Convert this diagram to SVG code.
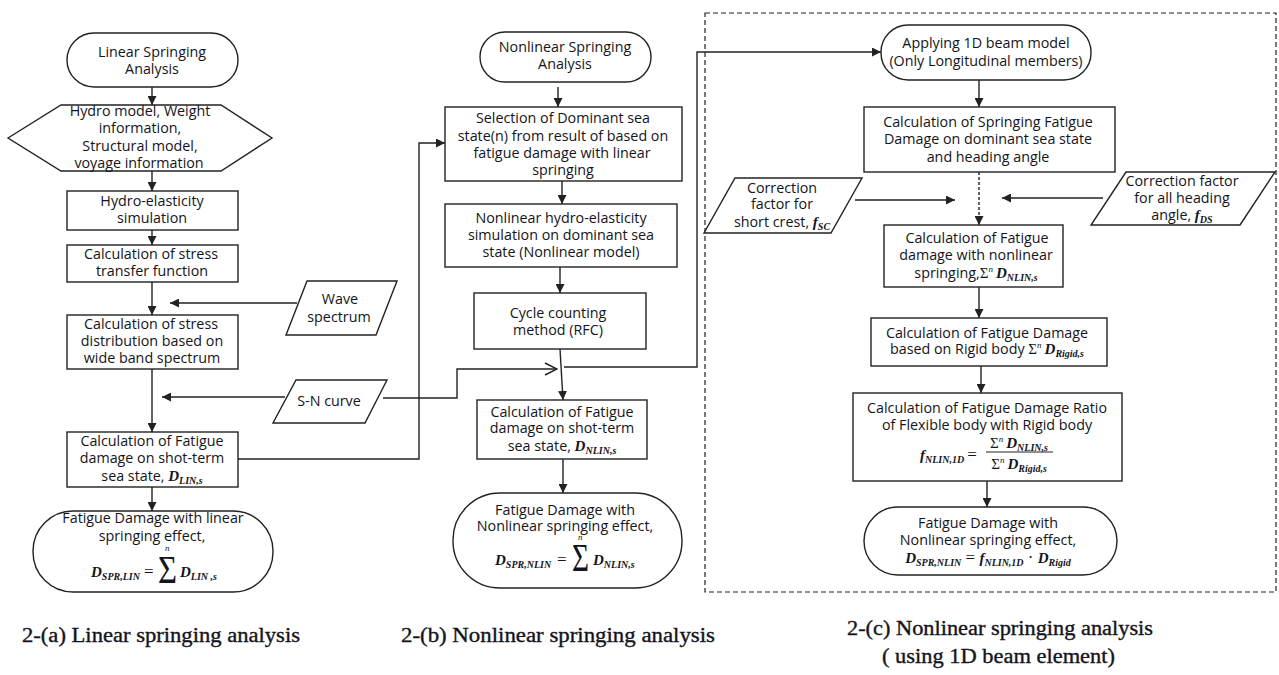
<svg xmlns="http://www.w3.org/2000/svg" width="1279" height="675" viewBox="0 0 1279 675">
  <style>
    .shape { fill: #fff; stroke: #222; stroke-width: 1.4; }
    .t { font-family: "Open Sans", "Noto Sans", sans-serif; font-size: 14.3px; fill: #141420; text-anchor: middle; }
    .mi { font-family: "Liberation Serif", "DejaVu Serif", serif; font-style: italic; font-weight: bold; font-size: 15px; }
    .sub { font-size: 10px; }
    .sup { font-size: 9px; font-family: "Liberation Serif", serif; font-style: italic; }
    .sig { font-family: "Liberation Serif", "DejaVu Serif", serif; font-size: 15px; font-style: normal; font-weight: normal; }
    .bigsig { font-family: "Liberation Serif", "DejaVu Serif", serif; font-size: 40px; fill: #141420; }
    .op { font-family: "Liberation Serif", serif; font-size: 17px; font-style: normal; font-weight: normal; fill: #141420; }
    .cap { font-family: "Liberation Serif", "DejaVu Serif", serif; font-size: 20px; fill: #141420; stroke: #141420; stroke-width: 0.35; }
    .wire { fill: none; stroke: #222; stroke-width: 1.4; }
    .dash { stroke-dasharray: 3 2; }
    .frame { fill: none; stroke: #222; stroke-width: 1.2; stroke-dasharray: 5 3; }
  </style>
  <defs>
    <marker id="arrow" viewBox="0 0 10 10" refX="10" refY="5" markerWidth="9" markerHeight="9" markerUnits="userSpaceOnUse" orient="auto">
      <path d="M0,0 L10,5 L0,10 z" fill="#222"/>
    </marker>
    <marker id="open" viewBox="0 0 14 14" refX="13" refY="7" markerWidth="14" markerHeight="14" markerUnits="userSpaceOnUse" orient="auto">
      <path d="M1,1 L13,7 L1,13" fill="none" stroke="#222" stroke-width="1.4"/>
    </marker>
  </defs>

  <rect fill="#fff" x="0" y="0" width="1279" height="675"/>

  <!-- dashed frame around the 1D beam procedure -->
  <rect class="frame" x="705" y="13" width="571" height="579"/>

  <!-- connectors -->
  <g id="connectors">
    <!-- linear column -->
    <path class="wire" d="M152,87 V105" marker-end="url(#arrow)"/>
    <path class="wire" d="M152,171 V191" marker-end="url(#arrow)"/>
    <path class="wire" d="M152,230 V245" marker-end="url(#arrow)"/>
    <path class="wire" d="M152,282 V315" marker-end="url(#arrow)"/>
    <path class="wire" d="M152,369 V432" marker-end="url(#arrow)"/>
    <path class="wire" d="M152,487 V511" marker-end="url(#arrow)"/>
    <path class="wire" d="M297,303 H170" marker-end="url(#arrow)"/>
    <path class="wire" d="M285,397 H162" marker-end="url(#arrow)"/>
    <path class="wire" d="M238,459 H419 V143 H445" marker-end="url(#arrow)"/>
    <path class="wire" d="M383,398 H457 V369 H557" marker-end="url(#open)"/>
    <!-- nonlinear column -->
    <path class="wire" d="M558,87 V107" marker-end="url(#arrow)"/>
    <path class="wire" d="M562,181 V204" marker-end="url(#arrow)"/>
    <path class="wire" d="M560,267 V293" marker-end="url(#arrow)"/>
    <path class="wire" d="M560,349 L563,400" marker-end="url(#arrow)"/>
    <path class="wire" d="M563,459 V493" marker-end="url(#arrow)"/>
    <path class="wire" d="M564,367 H697 V52 H881" marker-end="url(#arrow)"/>
    <!-- 1D beam column -->
    <path class="wire" d="M979,80 V107" marker-end="url(#arrow)"/>
    <path class="wire dash" d="M979,172 V225" marker-end="url(#arrow)"/>
    <path class="wire" d="M855,200 H955" marker-end="url(#arrow)"/>
    <path class="wire" d="M1103,198 H1002" marker-end="url(#arrow)"/>
    <path class="wire" d="M979,287 V318" marker-end="url(#arrow)"/>
    <path class="wire" d="M981,366 V393" marker-end="url(#arrow)"/>
    <path class="wire" d="M987,481 V507" marker-end="url(#arrow)"/>
  </g>

  <!-- linear springing analysis -->
  <g id="lin-start">
    <rect class="shape" x="67" y="33" width="171" height="54" rx="27"/>
    <text class="t" x="152" y="57">Linear Springing</text>
    <text class="t" x="152" y="74">Analysis</text>
  </g>
  <g id="lin-inputs">
    <polygon class="shape" points="8,138 61,105 221,105 272,138 221,171 61,171"/>
    <text class="t" x="140" y="116">Hydro model, Weight</text>
    <text class="t" x="140" y="133">information,</text>
    <text class="t" x="140" y="151">Structural model,</text>
    <text class="t" x="139" y="168">voyage information</text>
  </g>
  <g id="lin-hydro">
    <rect class="shape" x="67" y="191" width="171" height="39"/>
    <text class="t" x="152" y="206">Hydro-elasticity</text>
    <text class="t" x="152" y="223">simulation</text>
  </g>
  <g id="lin-transfer">
    <rect class="shape" x="67" y="245" width="171" height="37"/>
    <text class="t" x="151" y="259">Calculation of stress</text>
    <text class="t" x="152" y="276">transfer function</text>
  </g>
  <g id="wave-spectrum">
    <polygon class="shape" points="307,281 397,281 376,335 286,335"/>
    <text class="t" x="340" y="304">Wave</text>
    <text class="t" x="339" y="322">spectrum</text>
  </g>
  <g id="lin-distribution">
    <rect class="shape" x="67" y="315" width="171" height="54"/>
    <text class="t" x="151" y="329">Calculation of stress</text>
    <text class="t" x="152" y="346">distribution based on</text>
    <text class="t" x="152" y="363">wide band spectrum</text>
  </g>
  <g id="sn-curve">
    <polygon class="shape" points="296,380 387,380 365,423 273,423"/>
    <text class="t" x="329" y="406">S-N curve</text>
  </g>
  <g id="lin-damage">
    <rect class="shape" x="67" y="432" width="171" height="55"/>
    <text class="t" x="152" y="446">Calculation of Fatigue</text>
    <text class="t" x="152" y="463">damage on shot-term</text>
    <text class="t" x="152" y="481">sea state, <tspan class="mi">D</tspan><tspan class="mi sub" dy="3">LIN,s</tspan></text>
  </g>
  <g id="lin-end">
    <rect class="shape" x="33" y="511" width="240" height="81" rx="40"/>
    <text class="t" x="153" y="523">Fatigue Damage with linear</text>
    <text class="t" x="152" y="541">springing effect,</text>
    <text class="mi" x="91" y="577" fill="#141420">D<tspan class="sub" dy="3">SPR,LIN</tspan></text>
    <text class="op" x="144" y="577">=</text>
    <text class="bigsig" x="158" y="583" textLength="19" lengthAdjust="spacingAndGlyphs">Σ</text>
    <text class="sup" x="165" y="551" fill="#141420">n</text>
    <text class="mi" x="180" y="577" fill="#141420">D<tspan class="sub" dy="3">LIN ,s</tspan></text>
  </g>

  <!-- nonlinear springing analysis -->
  <g id="nl-start">
    <rect class="shape" x="480" y="32" width="171" height="50" rx="25"/>
    <text class="t" x="565" y="52">Nonlinear Springing</text>
    <text class="t" x="565" y="69">Analysis</text>
  </g>
  <g id="nl-selection">
    <rect class="shape" x="445" y="107" width="237" height="74"/>
    <text class="t" x="563" y="123">Selection of Dominant sea</text>
    <text class="t" x="563" y="141">state(n) from result of based on</text>
    <text class="t" x="562" y="158">fatigue damage with linear</text>
    <text class="t" x="563" y="175">springing</text>
  </g>
  <g id="nl-hydro">
    <rect class="shape" x="445" y="204" width="232" height="63"/>
    <text class="t" x="561" y="223">Nonlinear hydro-elasticity</text>
    <text class="t" x="561" y="240">simulation on dominant sea</text>
    <text class="t" x="561" y="257">state (Nonlinear model)</text>
  </g>
  <g id="nl-rfc">
    <rect class="shape" x="474" y="293" width="172" height="56"/>
    <text class="t" x="558" y="318">Cycle counting</text>
    <text class="t" x="558" y="335">method (RFC)</text>
  </g>
  <g id="nl-damage">
    <rect class="shape" x="477" y="400" width="170" height="59"/>
    <text class="t" x="562" y="417">Calculation of Fatigue</text>
    <text class="t" x="562" y="433">damage on shot-term</text>
    <text class="t" x="562" y="451">sea state, <tspan class="mi">D</tspan><tspan class="mi sub" dy="3">NLIN,s</tspan></text>
  </g>
  <g id="nl-end">
    <rect class="shape" x="453" y="493" width="229" height="95" rx="47"/>
    <text class="t" x="565" y="515">Fatigue Damage with</text>
    <text class="t" x="565" y="531">Nonlinear springing effect,</text>
    <text class="mi" x="495" y="565" fill="#141420">D<tspan class="sub" dy="3">SPR,NLIN</tspan></text>
    <text class="op" x="557" y="565">=</text>
    <text class="bigsig" x="572" y="571" textLength="17" lengthAdjust="spacingAndGlyphs">Σ</text>
    <text class="sup" x="578" y="540" fill="#141420">n</text>
    <text class="mi" x="593" y="565" fill="#141420">D<tspan class="sub" dy="3">NLIN,s</tspan></text>
  </g>

  <!-- nonlinear springing analysis with 1D beam element -->
  <g id="beam-start">
    <rect class="shape" x="881" y="25" width="210" height="55" rx="27"/>
    <text class="t" x="986" y="48">Applying 1D beam model</text>
    <text class="t" x="986" y="66">(Only Longitudinal members)</text>
  </g>
  <g id="beam-springing">
    <rect class="shape" x="864" y="107" width="251" height="65"/>
    <text class="t" x="988" y="127">Calculation of Springing Fatigue</text>
    <text class="t" x="988" y="144">Damage on dominant sea state</text>
    <text class="t" x="988" y="162">and heading angle</text>
  </g>
  <g id="short-crest">
    <polygon class="shape" points="735,178 862,178 831,233 704,233"/>
    <text class="t" x="782" y="193">Correction</text>
    <text class="t" x="782" y="209">factor for</text>
    <text class="t" x="782" y="227">short crest, <tspan class="mi">f</tspan><tspan class="mi sub" dy="3">SC</tspan></text>
  </g>
  <g id="all-heading">
    <polygon class="shape" points="1126,172 1275,172 1240,225 1091,225"/>
    <text class="t" x="1182" y="186">Correction factor</text>
    <text class="t" x="1182" y="203">for all heading</text>
    <text class="t" x="1182" y="220">angle, <tspan class="mi">f</tspan><tspan class="mi sub" dy="3">DS</tspan></text>
  </g>
  <g id="beam-nonlinear">
    <rect class="shape" x="884" y="225" width="179" height="62"/>
    <text class="t" x="977" y="243">Calculation of Fatigue</text>
    <text class="t" x="976" y="260">damage with nonlinear</text>
    <text class="t" x="976" y="278">springing,<tspan class="sig">Σ</tspan><tspan class="sup" dy="-6">n</tspan><tspan class="mi" dx="3" dy="6">D</tspan><tspan class="mi sub" dy="3">NLIN,s</tspan></text>
  </g>
  <g id="beam-rigid">
    <rect class="shape" x="871" y="318" width="236" height="48"/>
    <text class="t" x="987" y="338">Calculation of Fatigue Damage</text>
    <text class="t" x="987" y="354">based on Rigid body <tspan class="sig">Σ</tspan><tspan class="sup" dy="-6">n</tspan><tspan class="mi" dx="3" dy="6">D</tspan><tspan class="mi sub" dy="3">Rigid,s</tspan></text>
  </g>
  <g id="beam-ratio">
    <rect class="shape" x="853" y="393" width="269" height="88"/>
    <text class="t" x="987" y="413">Calculation of Fatigue Damage Ratio</text>
    <text class="t" x="987" y="430">of Flexible body with Rigid body</text>
    <text class="mi" x="920" y="460" fill="#141420">f<tspan class="sub" dy="3">NLIN,1D</tspan><tspan class="op" dx="3" dy="-3">=</tspan></text>
    <text class="t" x="1019" y="448"><tspan class="sig">Σ</tspan><tspan class="sup" dy="-6">n</tspan><tspan class="mi" dx="3" dy="6">D</tspan><tspan class="mi sub" dy="3">NLIN,s</tspan></text>
    <line x1="986" y1="452" x2="1053" y2="452" stroke="#222" stroke-width="1.2"/>
    <text class="t" x="1019" y="469"><tspan class="sig">Σ</tspan><tspan class="sup" dy="-6">n</tspan><tspan class="mi" dx="3" dy="6">D</tspan><tspan class="mi sub" dy="3">Rigid,s</tspan></text>
  </g>
  <g id="beam-end">
    <rect class="shape" x="864" y="507" width="253" height="68" rx="34"/>
    <text class="t" x="988" y="528">Fatigue Damage with</text>
    <text class="t" x="988" y="545">Nonlinear springing effect,</text>
    <text class="t" x="988" y="563"><tspan class="mi">D</tspan><tspan class="mi sub" dy="3">SPR,NLIN</tspan><tspan class="op" dy="-3"> = </tspan><tspan class="mi">f</tspan><tspan class="mi sub" dy="3">NLIN,1D</tspan><tspan class="op" dy="-3"> · </tspan><tspan class="mi">D</tspan><tspan class="mi sub" dy="3">Rigid</tspan></text>
  </g>

  <!-- captions -->
  <text class="cap" x="22" y="642" textLength="278" lengthAdjust="spacingAndGlyphs">2-(a) Linear springing analysis</text>
  <text class="cap" x="401" y="642" textLength="314" lengthAdjust="spacingAndGlyphs">2-(b) Nonlinear springing analysis</text>
  <text class="cap" x="847" y="635" textLength="306" lengthAdjust="spacingAndGlyphs">2-(c) Nonlinear springing analysis</text>
  <text class="cap" x="882" y="663" textLength="233" lengthAdjust="spacingAndGlyphs">( using 1D beam element)</text>
</svg>
